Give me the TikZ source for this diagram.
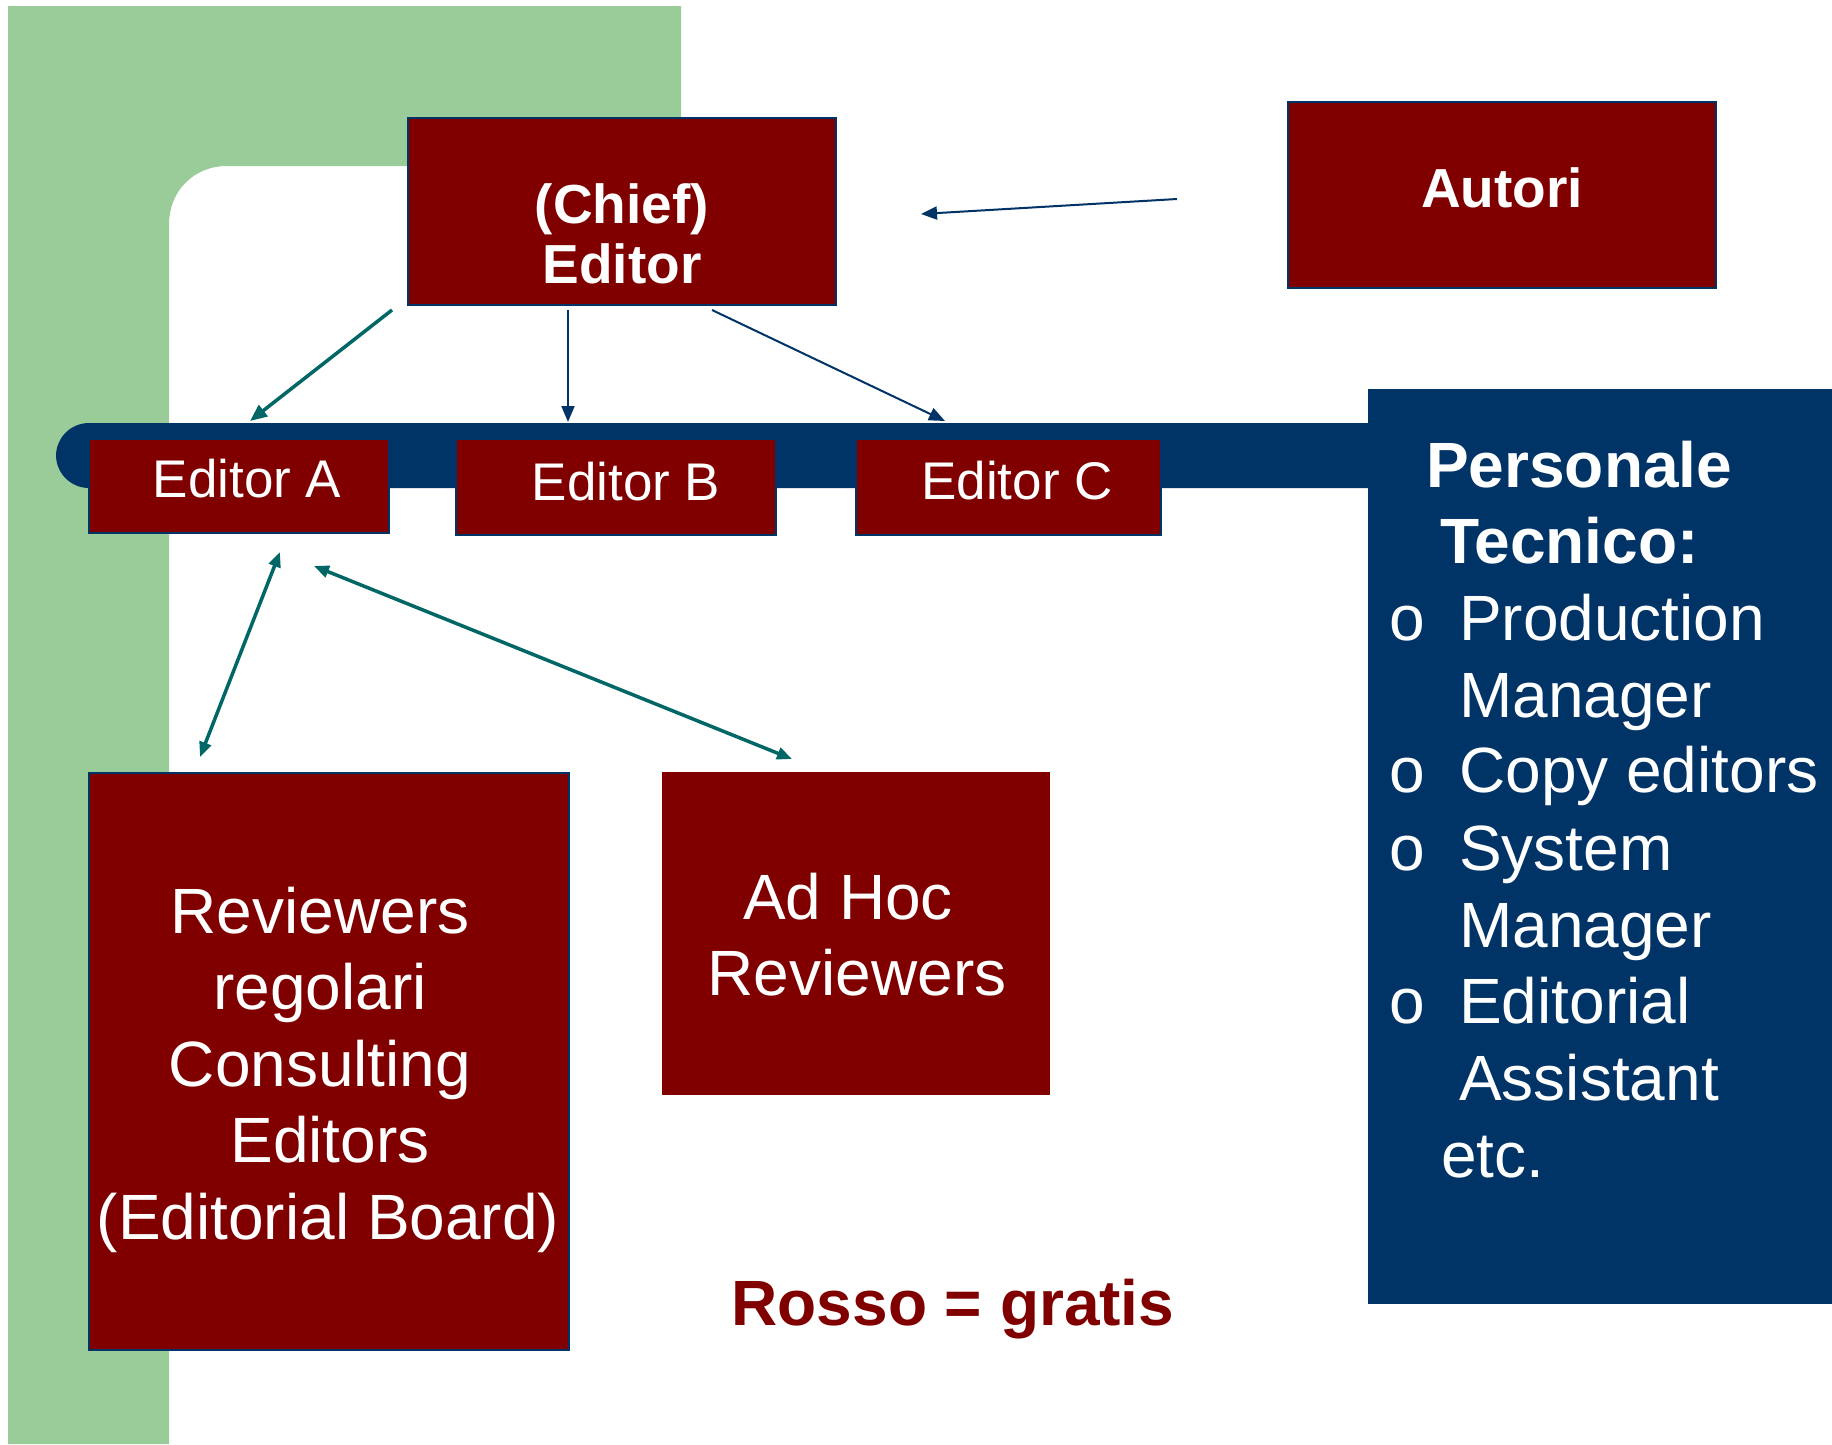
\documentclass[tikz,border=0pt]{standalone}
\usepackage{fontspec}
\setmainfont{Liberation Sans}
\usetikzlibrary{arrows.meta}
\definecolor{boxred}{HTML}{800000}
\definecolor{navybar}{HTML}{003366}
\definecolor{tealarrow}{HTML}{006666}
\definecolor{greenbg}{HTML}{99CC99}
\begin{document}
\begin{tikzpicture}[x=1pt,y=-1pt,
  redbox/.style={rectangle, fill=boxred, draw=navybar, line width=2pt, inner sep=0pt},
  lbl/.style={text=white, inner sep=0pt, anchor=base},
  lblw/.style={text=white, inner sep=0pt, anchor=base west},
  fsmall/.style={font=\fontsize{53}{64}\selectfont},
  fbig/.style={font=\fontsize{64}{76}\selectfont},
  fbold/.style={font=\fontsize{55}{66}\selectfont\bfseries},
  fbigbold/.style={font=\fontsize{64}{76}\selectfont\bfseries},
  navyarrow/.style={draw=navybar, line width=2pt, -{Triangle[length=16pt,width=13pt]}},
  tealone/.style={draw=tealarrow, line width=3.5pt, -{Triangle[length=17pt,width=14pt]}},
  tealtwo/.style={draw=tealarrow, line width=3.5pt, {Triangle[length=15pt,width=12pt]}-{Triangle[length=15pt,width=12pt]}}
]
\useasboundingbox (0,0) rectangle (1832,1444);
\fill[white] (0,0) rectangle (1832,1444);

% green frame
\fill[greenbg] (8,6) -- (681,6) -- (681,166) -- (227,166)
  .. controls (193,166) and (169,192) .. (169,224) -- (169,1444) -- (8,1444) -- cycle;

% navy bar
\fill[navybar, rounded corners=33pt] (56,423) rectangle (1420,488);

% boxes
\node[redbox, minimum width=428pt, minimum height=187pt] (chief) at (622,211.5) {};
\node[redbox, minimum width=428pt, minimum height=186pt] (autori) at (1502,195) {};
\node[redbox, minimum width=300pt, minimum height=94pt] (edA) at (239,486) {};
\node[redbox, minimum width=320pt, minimum height=96pt] (edB) at (616,487) {};
\node[redbox, minimum width=305pt, minimum height=96pt] (edC) at (1008.5,487) {};
\node[redbox, minimum width=480pt, minimum height=577pt] (rev) at (329,1061.5) {};
\node[redbox, draw=boxred, minimum width=386pt, minimum height=321pt] (adhoc) at (856,933.5) {};
\node[rectangle, fill=navybar, draw=navybar, line width=1pt, inner sep=0pt,
      minimum width=472pt, minimum height=914pt] (pers) at (1604,846) {};

% box texts
\node[lbl, fbold] (chiefA) at (622,223) {(Chief)};
\node[lbl, fbold] (chiefB) at (622,283) {Editor};
\node[lbl, fbold] (autoriT) at (1502,207) {Autori};
\node[lbl, fsmall] (edAT) at (247,497) {Editor A};
\node[lbl, fsmall] (edBT) at (626,500) {Editor B};
\node[lbl, fsmall] (edCT) at (1017,499) {Editor C};

\node[lbl, fbig] (rev1) at (320,933) {Reviewers};
\node[lbl, fbig] (rev2) at (320,1009.5) {regolari};
\node[lbl, fbig] (rev3) at (320,1086) {Consulting};
\node[lbl, fbig] (rev4) at (330,1162.5) {Editors};
\node[lbl, fbig] (rev5) at (328,1239) {(Editorial Board)};

\node[lbl, fbig] (ad1) at (848,919) {Ad Hoc};
\node[lbl, fbig] (ad2) at (857,995) {Reviewers};

% Personale Tecnico
\node[lblw, fbigbold] (p1) at (1426,487) {Personale};
\node[lblw, fbigbold] (p2) at (1440,563) {Tecnico:};
\node[lblw, fbig] (b1) at (1389,640) {o};
\node[lblw, fbig] (b2) at (1389,792) {o};
\node[lblw, fbig] (b3) at (1389,870) {o};
\node[lblw, fbig] (b4) at (1389,1023) {o};
\node[lblw, fbig] (i1) at (1459,640) {Production};
\node[lblw, fbig] (i2) at (1459,717) {Manager};
\node[lblw, fbig] (i3) at (1459,792) {Copy editors};
\node[lblw, fbig] (i4) at (1459,870) {System};
\node[lblw, fbig] (i5) at (1459,947) {Manager};
\node[lblw, fbig] (i6) at (1459,1023) {Editorial};
\node[lblw, fbig] (i7) at (1459,1100) {Assistant};
\node[lblw, fbig] (i8) at (1441,1177) {etc.};

% legend
\node[inner sep=0pt, anchor=base, text=boxred, fbigbold] (legend) at (953,1325) {Rosso = gratis};

% arrow end points
\coordinate (aS) at (1177,199);
\coordinate (aE) at (921,214);
\coordinate (cA1) at (392,310);
\coordinate (cA2) at (250,421);
\coordinate (cB1) at (568,310);
\coordinate (cB2) at (568,422);
\coordinate (cC1) at (712,310);
\coordinate (cC2) at (945,421);
\coordinate (r1) at (280,552);
\coordinate (r2) at (200,757);
\coordinate (h1) at (314,566);
\coordinate (h2) at (792,759);

\draw[navyarrow] (aS) -- (aE);
\draw[tealone] (cA1) -- (cA2);
\draw[navyarrow] (cB1) -- (cB2);
\draw[navyarrow] (cC1) -- (cC2);
\draw[tealtwo] (r1) -- (r2);
\draw[tealtwo] (h1) -- (h2);
\end{tikzpicture}
\end{document}
